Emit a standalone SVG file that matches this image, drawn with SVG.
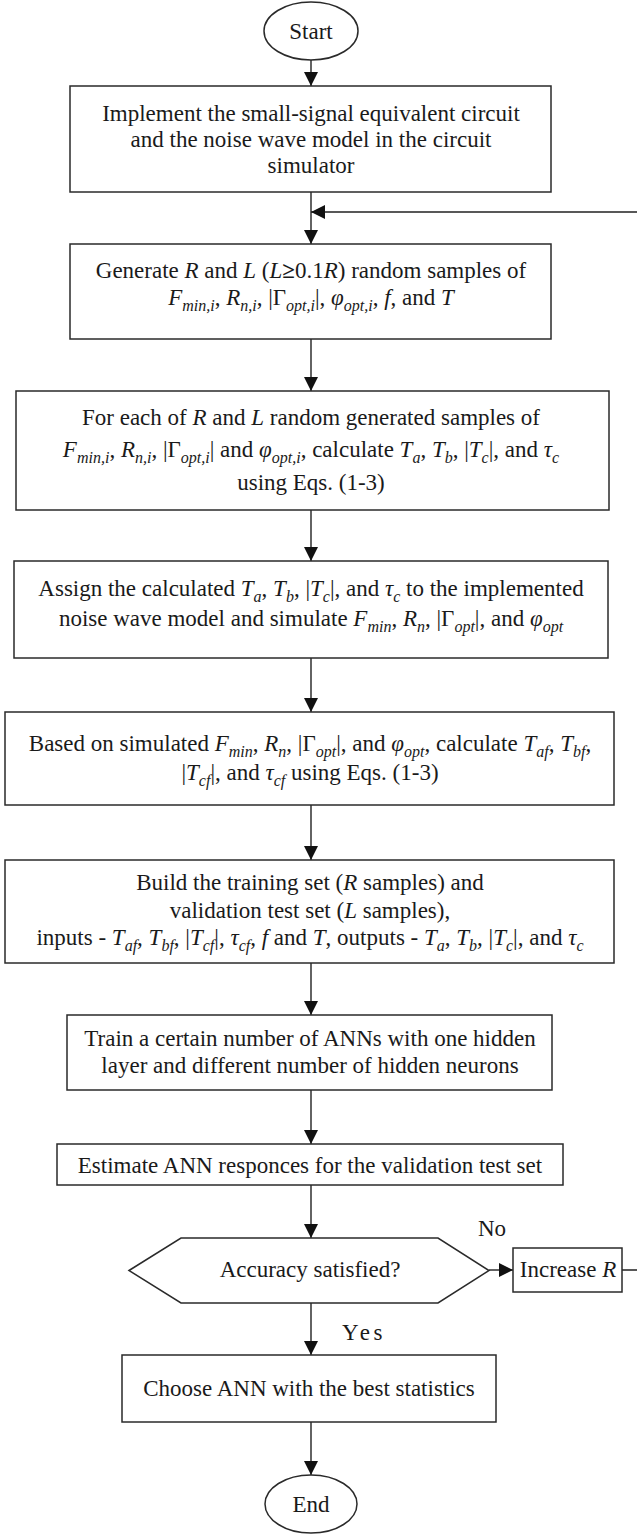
<svg xmlns="http://www.w3.org/2000/svg" width="637" height="1535" viewBox="0 0 637 1535">
<style>
.t{font-family:"Liberation Serif","Times New Roman",serif;font-size:23px;fill:#1a1a1a;text-anchor:middle}
.i{font-style:italic}
.s{font-size:16px;font-style:italic}
.box{fill:#fff;stroke:#2a2a2a;stroke-width:1.5}
.ln{stroke:#222;stroke-width:1.4;fill:none}
</style>
<defs>
<marker id="ah" markerUnits="userSpaceOnUse" markerWidth="14" markerHeight="14" refX="14" refY="7" orient="auto">
<path d="M0,0 L14,7 L0,14 z" fill="#111"/>
</marker>
</defs>
<rect width="637" height="1535" fill="#fff"/>
<g id="connectors">
<line class="ln" x1="311" y1="60" x2="311" y2="86" marker-end="url(#ah)"/>
<line class="ln" x1="311" y1="192" x2="311" y2="244" marker-end="url(#ah)"/>
<polyline class="ln" points="622,1270 642,1270 642,212 311,212" marker-end="url(#ah)"/>
<line class="ln" x1="311" y1="339" x2="311" y2="391" marker-end="url(#ah)"/>
<line class="ln" x1="311" y1="510" x2="311" y2="561" marker-end="url(#ah)"/>
<line class="ln" x1="311" y1="658" x2="311" y2="712" marker-end="url(#ah)"/>
<line class="ln" x1="311" y1="805" x2="311" y2="860" marker-end="url(#ah)"/>
<line class="ln" x1="311" y1="963" x2="311" y2="1015" marker-end="url(#ah)"/>
<line class="ln" x1="311" y1="1090" x2="311" y2="1144" marker-end="url(#ah)"/>
<line class="ln" x1="311" y1="1185" x2="311" y2="1238" marker-end="url(#ah)"/>
<line class="ln" x1="489" y1="1270" x2="513" y2="1270" marker-end="url(#ah)"/>
<line class="ln" x1="311" y1="1303" x2="311" y2="1355" marker-end="url(#ah)"/>
<line class="ln" x1="311" y1="1422" x2="311" y2="1475" marker-end="url(#ah)"/>
<text class="t" x="492" y="1236">No</text>
<text class="t" x="364" y="1340" letter-spacing="3.5">Yes</text>
</g>
<g id="start">
<ellipse class="box" cx="311" cy="31" rx="47" ry="29"/>
<text class="t" x="311" y="39">Start</text>
</g>
<g id="implement">
<rect class="box" x="70" y="86" width="481" height="106"/>
<text class="t" x="311" y="121">Implement the small-signal equivalent circuit</text>
<text class="t" x="311" y="147">and the noise wave model in the circuit</text>
<text class="t" x="311" y="173">simulator</text>
</g>
<g id="generate">
<rect class="box" x="70" y="244" width="481" height="95"/>
<text class="t" x="311" y="278">Generate <tspan class="i">R</tspan> and <tspan class="i">L</tspan> (<tspan class="i">L</tspan><tspan font-weight="bold">≥</tspan>0.1<tspan class="i">R</tspan>) random samples of</text>
<text class="t" x="311" y="305"><tspan class="i">F</tspan><tspan class="s" dy="6">min,i</tspan><tspan dy="-6">, </tspan><tspan class="i">R</tspan><tspan class="s" dy="6">n,i</tspan><tspan dy="-6">, |Γ</tspan><tspan class="s" dy="6">opt,i</tspan><tspan dy="-6">|, </tspan><tspan class="i">φ</tspan><tspan class="s" dy="6">opt,i</tspan><tspan dy="-6">, </tspan><tspan class="i">f</tspan>, and <tspan class="i">T</tspan></text>
</g>
<g id="calc">
<rect class="box" x="16" y="391" width="593" height="119"/>
<text class="t" x="311" y="425">For each of <tspan class="i">R</tspan> and <tspan class="i">L</tspan> random generated samples of</text>
<text class="t" x="311" y="457"><tspan class="i">F</tspan><tspan class="s" dy="6">min,i</tspan><tspan dy="-6">, </tspan><tspan class="i">R</tspan><tspan class="s" dy="6">n,i</tspan><tspan dy="-6">, |Γ</tspan><tspan class="s" dy="6">opt,i</tspan><tspan dy="-6">| and </tspan><tspan class="i">φ</tspan><tspan class="s" dy="6">opt,i</tspan><tspan dy="-6">, calculate  </tspan><tspan class="i">T</tspan><tspan class="s" dy="6">a</tspan><tspan dy="-6">, </tspan><tspan class="i">T</tspan><tspan class="s" dy="6">b</tspan><tspan dy="-6">, |</tspan><tspan class="i">T</tspan><tspan class="s" dy="6">c</tspan><tspan dy="-6">|, and </tspan><tspan class="i">τ</tspan><tspan class="s" dy="6">c</tspan></text>
<text class="t" x="311" y="490">using Eqs. (1-3)</text>
</g>
<g id="assign">
<rect class="box" x="14" y="561" width="594" height="97"/>
<text class="t" x="311" y="596">Assign the calculated <tspan class="i">T</tspan><tspan class="s" dy="6">a</tspan><tspan dy="-6">, </tspan><tspan class="i">T</tspan><tspan class="s" dy="6">b</tspan><tspan dy="-6">, |</tspan><tspan class="i">T</tspan><tspan class="s" dy="6">c</tspan><tspan dy="-6">|, and </tspan><tspan class="i">τ</tspan><tspan class="s" dy="6">c</tspan><tspan dy="-6"> to the implemented</tspan></text>
<text class="t" x="311" y="626">noise wave model and simulate <tspan class="i">F</tspan><tspan class="s" dy="6">min</tspan><tspan dy="-6">, </tspan><tspan class="i">R</tspan><tspan class="s" dy="6">n</tspan><tspan dy="-6">, |Γ</tspan><tspan class="s" dy="6">opt</tspan><tspan dy="-6">|, and </tspan><tspan class="i">φ</tspan><tspan class="s" dy="6">opt</tspan></text>
</g>
<g id="based">
<rect class="box" x="5" y="712" width="609" height="93"/>
<text class="t" x="310" y="751">Based on simulated <tspan class="i">F</tspan><tspan class="s" dy="6">min</tspan><tspan dy="-6">, </tspan><tspan class="i">R</tspan><tspan class="s" dy="6">n</tspan><tspan dy="-6">, |Γ</tspan><tspan class="s" dy="6">opt</tspan><tspan dy="-6">|, and </tspan><tspan class="i">φ</tspan><tspan class="s" dy="6">opt</tspan><tspan dy="-6">, calculate </tspan><tspan class="i">T</tspan><tspan class="s" dy="6">af</tspan><tspan dy="-6">, </tspan><tspan class="i">T</tspan><tspan class="s" dy="6">bf</tspan><tspan dy="-6">,</tspan></text>
<text class="t" x="310" y="780">|<tspan class="i">T</tspan><tspan class="s" dy="6">cf</tspan><tspan dy="-6">|, and </tspan><tspan class="i">τ</tspan><tspan class="s" dy="6">cf</tspan><tspan dy="-6"> using Eqs. (1-3)</tspan></text>
</g>
<g id="build">
<rect class="box" x="5" y="860" width="609" height="103"/>
<text class="t" x="310" y="890">Build the training set (<tspan class="i">R</tspan> samples) and</text>
<text class="t" x="310" y="918">validation test set (<tspan class="i">L</tspan> samples),</text>
<text class="t" x="310" y="945">inputs - <tspan class="i">T</tspan><tspan class="s" dy="6">af</tspan><tspan dy="-6">, </tspan><tspan class="i">T</tspan><tspan class="s" dy="6">bf</tspan><tspan dy="-6">, |</tspan><tspan class="i">T</tspan><tspan class="s" dy="6">cf</tspan><tspan dy="-6">|, </tspan><tspan class="i">τ</tspan><tspan class="s" dy="6">cf</tspan><tspan dy="-6">, </tspan><tspan class="i">f</tspan> and <tspan class="i">T</tspan>, outputs - <tspan class="i">T</tspan><tspan class="s" dy="6">a</tspan><tspan dy="-6">, </tspan><tspan class="i">T</tspan><tspan class="s" dy="6">b</tspan><tspan dy="-6">, |</tspan><tspan class="i">T</tspan><tspan class="s" dy="6">c</tspan><tspan dy="-6">|, and </tspan><tspan class="i">τ</tspan><tspan class="s" dy="6">c</tspan></text>
</g>
<g id="train">
<rect class="box" x="67" y="1015" width="485" height="75"/>
<text class="t" x="310" y="1046">Train a certain number of ANNs with one hidden</text>
<text class="t" x="310" y="1073">layer and different number of hidden neurons</text>
</g>
<g id="estimate">
<rect class="box" x="57" y="1144" width="506" height="41"/>
<text class="t" x="310" y="1173">Estimate ANN responces for the validation test set</text>
</g>
<g id="decision">
<polygon class="box" points="129,1270.5 181,1238 438,1238 489,1270.5 438,1303 181,1303"/>
<text class="t" x="310" y="1277">Accuracy satisfied?</text>
</g>
<g id="increase">
<rect class="box" x="513" y="1248" width="109" height="44"/>
<text class="t" x="568" y="1277">Increase <tspan class="i">R</tspan></text>
</g>
<g id="choose">
<rect class="box" x="122" y="1355" width="374" height="67"/>
<text class="t" x="309" y="1396">Choose ANN with the best statistics</text>
</g>
<g id="end">
<ellipse class="box" cx="311" cy="1504" rx="46" ry="29"/>
<text class="t" x="311" y="1512">End</text>
</g>
</svg>
